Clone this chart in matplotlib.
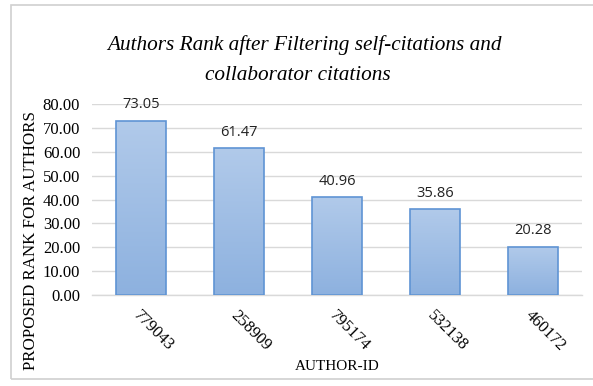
import matplotlib
matplotlib.use("Agg")
import matplotlib.pyplot as plt
import numpy as np
from matplotlib.patches import Rectangle
from matplotlib.colors import LinearSegmentedColormap

authors = ["779043", "258909", "795174", "532138", "460172"]
ranks = [73.05, 61.47, 40.96, 35.86, 20.28]
yticks = [0, 10, 20, 30, 40, 50, 60, 70, 80]

W, H = 593, 386
fig = plt.figure(figsize=(W / 100, H / 100), dpi=100)
fig.patch.set_facecolor("white")

# outer chart border
fig.add_artist(Rectangle((11 / W, 1 - 379 / H), (600 - 11) / W, (379 - 5) / H,
                         transform=fig.transFigure, fill=False,
                         edgecolor="#d0d0d0", linewidth=1.2))

ax = fig.add_axes([92 / W, 1 - 295 / H, (582 - 92) / W, (295 - 104) / H])

cmap = LinearSegmentedColormap.from_list("g", ["#8db1df", "#b1caea"])
grad = np.linspace(0, 1, 256).reshape(-1, 1)
bars = ax.bar(range(len(authors)), ranks, width=0.51, color="none",
              edgecolor="#5f94d4", linewidth=1.2, zorder=3)
for b in bars:
    x0, y0 = b.get_x(), b.get_y()
    im = ax.imshow(grad, cmap=cmap, aspect="auto", origin="lower",
                   extent=(x0, x0 + b.get_width(), y0, y0 + b.get_height()),
                   zorder=2)
    im.set_clip_path(b)
ax.set_xlim(-0.5, len(authors) - 0.5)
ax.set_ylim(0, 80)

for i, v in enumerate(ranks):
    ax.text(i, v + 3.6, f"{v:.2f}", ha="center", va="bottom",
            fontsize=10.5, family="Open Sans", color="#222222")

ax.set_yticks(yticks)
ax.set_yticklabels([f"{t:.2f}" for t in yticks], family="Liberation Serif", fontsize=12)
ax.set_xticks(range(len(authors)))
ax.set_xticklabels(authors, rotation=-45, ha="left", va="top", rotation_mode="anchor",
                   family="Liberation Serif", fontsize=12)
ax.tick_params(length=0)
ax.tick_params(axis="y", pad=8.5)
ax.tick_params(axis="x", pad=9)
ax.grid(axis="y", color="#d9d9d9", linewidth=1.0, zorder=0)
ax.set_axisbelow(True)
for s in ["top", "right", "left"]:
    ax.spines[s].set_visible(False)
ax.spines["bottom"].set_color("#d9d9d9")
ax.spines["bottom"].set_linewidth(1.0)

fig.text(304 / W, 1 - 45 / H, "Authors Rank after Filtering self-citations and",
         ha="center", va="center", family="Liberation Serif", style="italic", fontsize=15.3)
fig.text(298 / W, 1 - 75 / H, "collaborator citations",
         ha="center", va="center", family="Liberation Serif", style="italic", fontsize=15.3)
fig.text(31 / W, 1 - 241 / H, "PROPOSED RANK FOR AUTHORS", rotation=90,
         ha="center", va="center", family="Liberation Serif", fontsize=12.2)
fig.text(337 / W, 1 - 367 / H, "AUTHOR-ID", ha="center", va="center",
         family="Liberation Serif", fontsize=11)

fig.savefig("out.png", dpi=100)
